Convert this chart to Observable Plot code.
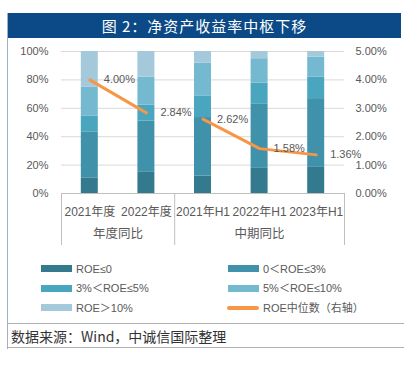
<!DOCTYPE html>
<html><head><meta charset="utf-8">
<script src="https://cdn.jsdelivr.net/npm/d3@7"></script>
<script src="https://cdn.jsdelivr.net/npm/@observablehq/plot@0.6"></script>
<style>
body{margin:0;background:#fff;width:404px;height:366px;position:relative;overflow:hidden;font-family:"Liberation Sans","Noto Sans CJK SC",sans-serif;}
#frameL{position:absolute;left:7px;top:13px;width:1px;height:336px;background:#9fb0c4;}
#title{position:absolute;left:8px;top:13px;width:393px;height:25px;background:#0b4a86;color:#fff;font:15px "Noto Sans CJK SC",sans-serif;text-align:center;line-height:25px;letter-spacing:1px;}
#chart{position:absolute;left:0;top:40px;}
.sw{position:absolute;width:31px;height:7px;}
.lt{position:absolute;font-size:11px;color:#595959;line-height:14px;white-space:nowrap;}
#foot{position:absolute;left:8px;top:323px;width:396px;height:25px;border-top:1px solid #b0b0b0;border-bottom:1px solid #b0b0b0;font:14px "Noto Sans CJK SC",sans-serif;line-height:24px;padding-left:3px;box-sizing:border-box;color:#333;}
</style></head>
<body>
<div id="frameL"></div>
<div id="title">图 2：净资产收益率中枢下移</div>
<div id="chart"></div>
<div id="legend"></div>
<div id="foot">数据来源：Wind，中诚信国际整理</div>
<script>
const categories = ["2021年度","2022年度","2021年H1","2022年H1","2023年H1"];
const groups = ["年度同比","年度同比","中期同比","中期同比","中期同比"];
const bands = ["ROE≤0","0＜ROE≤3%","3%＜ROE≤5%","5%＜ROE≤10%","ROE＞10%"];
const shareLE0   = [11.0,14.9,12.3,17.7,18.4];
const share0to3  = [32.4,36.2,41.2,45.1,48.4];
const share3to5  = [11.2,11.2,14.9,15.0,15.2];
const share5to10 = [20.4,19.6,23.4,17.1,14.0];
const shareGT10  = [25.0,18.1,8.2,5.1,4.0];
const roeMedian  = [4.00,2.84,2.62,1.58,1.36];
const lineName = "ROE中位数（右轴）";
const leftTicks = [0,20,40,60,80,100];
const rightMax = 5;
const bandColors = ["#337a8e","#3f92aa","#4aa6be","#74b9cf","#a3c9da"];
const lineColor = "#f79646";

const series = [shareLE0, share0to3, share3to5, share5to10, shareGT10];
const rows = [];
categories.forEach((c, i) => {
  const tot = d3.sum(series, s => s[i]);
  let acc = 0;
  series.forEach((s, k) => {
    const v = s[i] / tot;
    rows.push({i, band: bands[k], y1: acc, y2: acc + v});
    acc += v;
  });
});
const linePts = roeMedian.map((v, i) => ({i, g: groups[i], y: v / rightMax, label: v.toFixed(2) + "%"}));
const groupNames = Array.from(new Set(groups));
const groupInfo = groupNames.map(g => {
  const idx = d3.range(groups.length).filter(i => groups[i] === g);
  return {name: g, center: d3.mean(idx), lo: d3.min(idx) - 0.5, hi: d3.max(idx) + 0.5};
});
const separators = Array.from(new Set(groupInfo.flatMap(g => [g.lo, g.hi])));
const yTickVals = leftTicks.map(t => t / 100);
const half = 0.15;

const plot = Plot.plot({
  width: 404, height: 210,
  marginTop: 11, marginBottom: 57, marginLeft: 61, marginRight: 60,
  style: {fontFamily: '"Liberation Sans","Noto Sans CJK SC",sans-serif', fontSize: "11px", color: "#595959", background: "transparent"},
  x: {domain: [-0.5, categories.length - 0.5], axis: null},
  y: {domain: [0, 1], axis: null},
  color: {domain: bands, range: bandColors},
  marks: [
    Plot.ruleY(yTickVals.slice(1), {stroke: "#d9d9d9", strokeWidth: 1}),
    Plot.rectY(rows, {x1: d => d.i - half, x2: d => d.i + half, y1: "y1", y2: "y2", fill: "band"}),
    Plot.ruleY([0], {stroke: "#bfbfbf", strokeWidth: 1}),
    Plot.axisY({anchor: "left", ticks: yTickVals, tickFormat: d => Math.round(d * 100) + "%", tickSize: 0, tickPadding: 13, fontSize: 11}),
    Plot.axisY({anchor: "right", ticks: yTickVals, tickFormat: d => (d * rightMax).toFixed(2) + "%", tickSize: 0, tickPadding: 11, fontSize: 11}),
    Plot.axisX({ticks: d3.range(categories.length), tickFormat: i => categories[i], tickSize: 0, tickPadding: 14, fontSize: 12}),
    Plot.ruleX(separators, {stroke: "#bfbfbf", strokeWidth: 1, insetTop: 142, insetBottom: -52}),
    Plot.text(groupInfo, {x: "center", text: "name", frameAnchor: "bottom", dy: 44, fontSize: 12.5, fill: "#595959"}),
    Plot.line(linePts, {x: "i", y: "y", z: "g", stroke: lineColor, strokeWidth: 3, strokeLinecap: "round", strokeLinejoin: "round"}),
    Plot.text(linePts, {x: "i", y: "y", text: "label", dx: 14, textAnchor: "start", fontSize: 11, fill: "#595959"})
  ]
});
document.getElementById("chart").appendChild(plot);

// legend
const legend = document.getElementById("legend");
const items = bands.map((b, k) => ({name: b, color: bandColors[k], type: "rect"}))
  .concat([{name: lineName, color: lineColor, type: "line"}]);
const rowY = [268.5, 288, 307.5];
const colX = [41, 228];
items.forEach((it, n) => {
  const r = Math.floor(n / 2), c = n % 2;
  const sw = document.createElement("div");
  sw.className = "sw";
  sw.style.left = colX[c] + "px";
  if (it.type === "rect") {
    sw.style.top = (rowY[r] - 3.5) + "px";
    sw.style.background = it.color;
  } else {
    sw.style.top = (rowY[r] - 2) + "px";
    sw.style.height = "4px";
    sw.style.width = "32px";
    sw.style.left = (colX[c] - 1) + "px";
    sw.style.borderRadius = "2px";
    sw.style.background = it.color;
  }
  legend.appendChild(sw);
  const t = document.createElement("div");
  t.className = "lt";
  t.textContent = it.name;
  t.style.left = (colX[c] + 35) + "px";
  t.style.top = (rowY[r] - 7) + "px";
  legend.appendChild(t);
});
</script>
</body></html>
